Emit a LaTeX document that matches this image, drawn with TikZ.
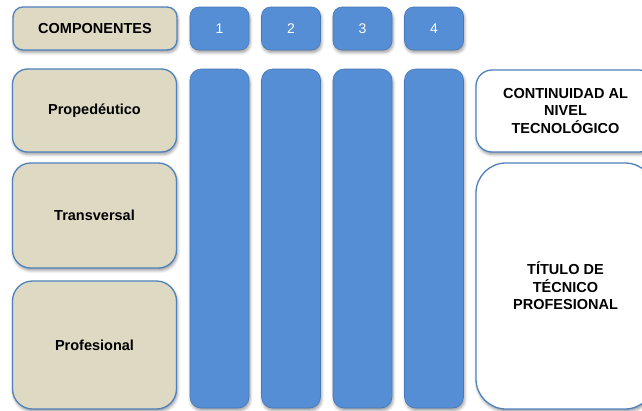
\documentclass[tikz,border=0pt]{standalone}
\usepackage{fontspec}
\setmainfont{Liberation Sans}
\usetikzlibrary{shapes,positioning,shadows.blur}
\definecolor{beigefill}{RGB}{221,217,195}
\definecolor{edgeblue}{RGB}{79,129,189}
\definecolor{cellblue}{RGB}{85,142,213}

\tikzset{
    softshadow/.style={blur shadow={shadow xshift=1pt, shadow yshift=-2.5pt, shadow blur radius=3pt, shadow opacity=40}},
    compbox/.style={rectangle, draw=edgeblue, line width=1.3pt, fill=beigefill, softshadow, minimum width=164pt, inner sep=0pt, align=center, font=\fontsize{14.5}{17}\selectfont\bfseries},
    levelbox/.style={rectangle, draw=cellblue!85!black, line width=0.6pt, fill=cellblue, softshadow, minimum width=59pt, inner sep=0pt, text=white, font=\fontsize{14}{17}\selectfont},
    outcomebox/.style={rectangle, draw=edgeblue, line width=1.3pt, fill=white, softshadow, minimum width=179pt, inner sep=0pt, align=center, font=\fontsize{14.5}{17.5}\selectfont\bfseries}
}

\begin{document}
\begin{tikzpicture}[x=1pt, y=-1pt]
    \useasboundingbox (0,0) rectangle (642,410);

    % Header
    \node[compbox, rounded corners=10pt, minimum height=43pt] (comp) at (95,28.5) {COMPONENTES};
    \node[levelbox, rounded corners=9pt, minimum height=43pt] (n1) at (219.5,28.5) {1};
    \node[levelbox, rounded corners=9pt, minimum height=43pt] (n2) at (291,28.5) {2};
    \node[levelbox, rounded corners=9pt, minimum height=43pt] (n3) at (362.5,28.5) {3};
    \node[levelbox, rounded corners=9pt, minimum height=43pt] (n4) at (434,28.5) {4};

    % Columns
    \node[levelbox, rounded corners=11pt, minimum height=339pt] (c1) at (219.5,238.5) {};
    \node[levelbox, rounded corners=11pt, minimum height=339pt] (c2) at (291,238.5) {};
    \node[levelbox, rounded corners=11pt, minimum height=339pt] (c3) at (362.5,238.5) {};
    \node[levelbox, rounded corners=11pt, minimum height=339pt] (c4) at (434,238.5) {};

    % Components
    \node[compbox, rounded corners=15pt, minimum height=83pt] (prop) at (94.5,110.5) {Propedéutico};
    \node[compbox, rounded corners=18pt, minimum height=105pt] (trans) at (94.5,215.5) {Transversal};
    \node[compbox, rounded corners=20pt, minimum height=128pt] (prof) at (94.5,345) {Profesional};

    % Outcomes
    \node[outcomebox, rounded corners=16pt, minimum height=82pt] (cont) at (565.5,111) {CONTINUIDAD AL\\NIVEL\\TECNOLÓGICO};
    \node[outcomebox, rounded corners=30pt, minimum height=246pt] (titulo) at (565.5,286) {TÍTULO DE\\TÉCNICO\\PROFESIONAL};
\end{tikzpicture}
\end{document}
